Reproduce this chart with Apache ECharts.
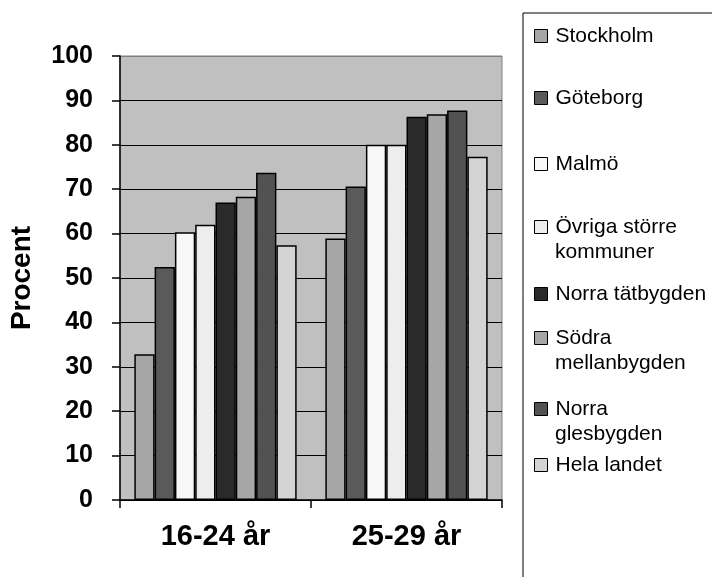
<!DOCTYPE html>
<html>
<head>
<meta charset="utf-8">
<script src="https://cdn.jsdelivr.net/npm/echarts@6/dist/echarts.min.js"></script>
<style>html,body{margin:0;padding:0;background:#fff;}#c{width:712px;height:577px;}</style>
</head>
<body>
<div id="c"></div>
<script>
var categories = ['16-24 år', '25-29 år'];
var seriesNames = ['Stockholm', 'Göteborg', 'Malmö', 'Övriga större kommuner', 'Norra tätbygden', 'Södra mellanbygden', 'Norra glesbygden', 'Hela landet'];
var stockholm = [32.8, 58.9];
var goteborg = [52.5, 70.6];
var malmo = [60.3, 80.0];
var ovriga = [62.0, 80.0];
var norraTat = [67.0, 86.3];
var sodra = [68.3, 86.9];
var norraGles = [73.7, 87.7];
var helaLandet = [57.4, 77.3];
var yTicks = [0, 10, 20, 30, 40, 50, 60, 70, 80, 90, 100];

var values = [stockholm, goteborg, malmo, ovriga, norraTat, sodra, norraGles, helaLandet];
var colors = ['#a6a6a6', '#5a5a5a', '#f8f8f8', '#ededed', '#2a2a2a', '#a6a6a6', '#525252', '#d4d4d4'];
var legendLines = [['Stockholm'], ['Göteborg'], ['Malmö'], ['Övriga större', 'kommuner'], ['Norra tätbygden'], ['Södra', 'mellanbygden'], ['Norra', 'glesbygden'], ['Hela landet']];
var legendCenters = [36, 98, 164, 227, 294, 338, 409, 465];

var FONT = 'Liberation Sans, Arial, sans-serif';
var LH = 25;
var LFS = 21;

var series = seriesNames.map(function (n, i) {
  return {
    name: n, type: 'bar', data: values[i],
    barGap: '0%', barCategoryGap: '15%',
    itemStyle: { color: colors[i], borderColor: '#000', borderWidth: 1.5 }
  };
});

var legends = seriesNames.map(function (n, i) {
  var lines = legendLines[i];
  return {
    data: [n], orient: 'vertical', left: 534,
    top: legendCenters[i] - LH / 2,
    padding: 0, itemWidth: 13, itemHeight: 13, itemGap: 0, selectedMode: false,
    icon: 'rect',
    itemStyle: { borderColor: '#000', borderWidth: 1 },
    formatter: function () { return '{a|' + lines[0] + '}'; },
    textStyle: { fontFamily: FONT, fontSize: LFS, color: '#000', lineHeight: LH,
      rich: { a: { fontFamily: FONT, fontSize: LFS, color: '#000', lineHeight: LH, padding: [0, 0, 0, 3] } } }
  };
});

var graphics = [{ type: 'rect', shape: { x: 523, y: 13, width: 220, height: 620 },
  style: { fill: 'none', stroke: '#000', lineWidth: 1 }, z: 0 }];
legendLines.forEach(function (lines, i) {
  if (lines.length > 1) {
    graphics.push({ type: 'text', left: 555, top: legendCenters[i] + LH / 2,
      style: { text: lines[1], fontFamily: FONT, fontSize: LFS, fill: '#000', lineHeight: LH } });
  }
});

var splitColors = yTicks.map(function (t, i) { return i === yTicks.length - 1 ? '#808080' : '#000'; });

var chart = echarts.init(document.getElementById('c'), null, { renderer: 'canvas' });
chart.setOption({
  backgroundColor: '#fff',
  animation: false,
  legend: legends,
  graphic: graphics,
  grid: { left: 116, top: 56, right: 210, bottom: 77, show: true,
    backgroundColor: '#c0c0c0', borderColor: '#808080', borderWidth: 1 },
  xAxis: {
    type: 'category', data: categories,
    axisLine: { lineStyle: { color: '#000', width: 1.5 } },
    axisTick: { show: true, length: 8, lineStyle: { color: '#000', width: 1.5 } },
    axisLabel: { fontFamily: FONT, fontSize: 29, fontWeight: 'bold', color: '#000', margin: 22 }
  },
  yAxis: {
    type: 'value', min: 0, max: 100, interval: 10,
    name: 'Procent', nameLocation: 'middle', nameGap: 84, nameRotate: 90,
    nameTextStyle: { fontFamily: FONT, fontSize: 28, fontWeight: 'bold', color: '#000' },
    axisLine: { show: true, lineStyle: { color: '#000', width: 1.5 } },
    axisTick: { show: true, length: 8, lineStyle: { color: '#000', width: 1.5 } },
    axisLabel: { fontFamily: FONT, fontSize: 25, fontWeight: 'bold', color: '#000', margin: 27,
      formatter: function (v) { return yTicks.indexOf(v) >= 0 ? String(v) : ''; } },
    splitLine: { show: true, lineStyle: { color: splitColors, width: 1.2 } }
  },
  series: series
});
</script>
</body>
</html>
